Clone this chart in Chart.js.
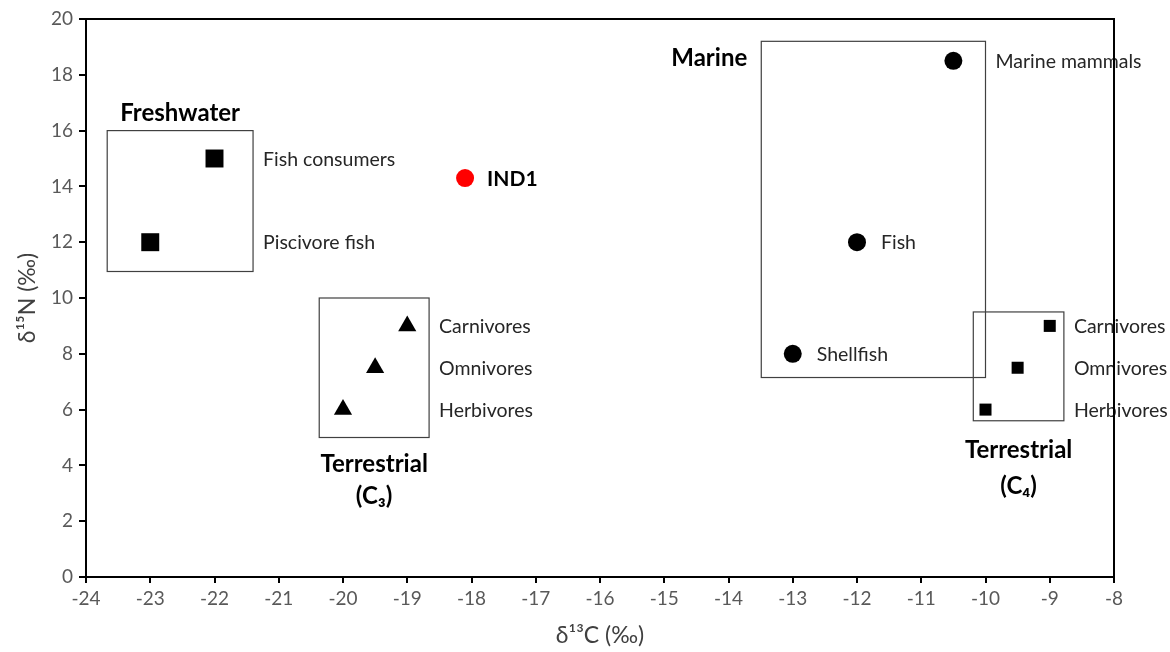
<!DOCTYPE html>
<html>
<head>
<meta charset="utf-8">
<script src="https://cdn.jsdelivr.net/npm/chart.js@4.4.0/dist/chart.umd.min.js"></script>
<style>
  html, body { margin: 0; padding: 0; background: #fff; }
  #wrap { width: 1170px; height: 652px; }
</style>
</head>
<body>
<div id="wrap"><canvas id="isotopeChart" width="1170" height="652"></canvas></div>
<script>
// d13C (x) and d15N (y) values
const freshwaterNames = ["Fish consumers", "Piscivore fish"];
const freshwaterC = [-22, -23];
const freshwaterN = [15, 12];

const c3Names = ["Carnivores", "Omnivores", "Herbivores"];
const c3C = [-19, -19.5, -20];
const c3N = [9, 7.5, 6];

const marineNames = ["Marine mammals", "Fish", "Shellfish"];
const marineC = [-10.5, -12, -13];
const marineN = [18.5, 12, 8];

const c4Names = ["Carnivores", "Omnivores", "Herbivores"];
const c4C = [-9, -9.5, -10];
const c4N = [9, 7.5, 6];

const sampleNames = ["IND1"];
const sampleC = [-18.1];
const sampleN = [14.3];

// reference ranges drawn as boxes: [minC, maxC, minN, maxN]
const freshwaterBox = [-23.67, -21.4, 10.95, 16];
const c3Box = [-20.37, -18.66, 5, 10];
const marineBox = [-13.49, -10, 7.15, 19.2];
const c4Box = [-10.19, -8.78, 5.6, 9.5];

const xMin = -24, xMax = -8, xStep = 1;
const yMin = 0, yMax = 20, yStep = 2;

const FONT = "Lato, 'Open Sans', sans-serif";

const toPoints = (xs, ys) => xs.map((v, i) => ({ x: v, y: ys[i] }));

// group drawing info (labels go right of the box or right of the point)
const groups = [
  { names: freshwaterNames, xs: freshwaterC, ys: freshwaterN, box: freshwaterBox, title: ["Freshwater"], titleAt: "top", gaps: [17], labelAt: ["box", "box"] },
  { names: c3Names, xs: c3C, ys: c3N, box: c3Box, title: ["Terrestrial", "(C\u2083)"], titleAt: "bottom", gaps: [27, 59], labelAt: ["box", "box", "box"] },
  { names: marineNames, xs: marineC, ys: marineN, box: marineBox, title: ["Marine"], titleAt: "left", gaps: [14], labelAt: ["box", "point", "point"] },
  { names: c4Names, xs: c4C, ys: c4N, box: c4Box, title: ["Terrestrial", "(C\u2084)"], titleAt: "bottom", gaps: [30, 66], labelAt: ["box", "box", "box"] },
];

const boxesPlugin = {
  id: "boxes",
  beforeDatasetsDraw(chart) {
    const { ctx, scales: { x, y } } = chart;
    ctx.save();
    ctx.strokeStyle = "#404040";
    ctx.lineWidth = 1.2;
    groups.forEach((g) => {
      const [c0, c1, n0, n1] = g.box;
      const left = x.getPixelForValue(c0), right = x.getPixelForValue(c1);
      const top = y.getPixelForValue(n1), bottom = y.getPixelForValue(n0);
      ctx.strokeRect(left, top, right - left, bottom - top);
    });
    ctx.restore();
  },
  afterDraw(chart) {
    const { ctx, chartArea: a, scales: { x, y } } = chart;
    ctx.save();
    ctx.textBaseline = "middle";
    groups.forEach((g) => {
      const [c0, c1, n0, n1] = g.box;
      const left = x.getPixelForValue(c0), right = x.getPixelForValue(c1);
      const top = y.getPixelForValue(n1), bottom = y.getPixelForValue(n0);

      // point labels
      ctx.font = "19.5px " + FONT;
      ctx.fillStyle = "#262626";
      ctx.textAlign = "left";
      g.names.forEach((name, i) => {
        const px = x.getPixelForValue(g.xs[i]);
        const py = y.getPixelForValue(g.ys[i]);
        const lx = g.labelAt[i] === "box" ? right + 10 : px + 24;
        ctx.fillText(name, lx, py + 1);
      });

      // group title
      ctx.font = "bold 24px " + FONT;
      ctx.fillStyle = "#000";
      const cx = (left + right) / 2;
      if (g.titleAt === "top") {
        ctx.textAlign = "center";
        ctx.fillText(g.title[0], cx, top - g.gaps[0]);
      } else if (g.titleAt === "left") {
        ctx.textAlign = "right";
        ctx.fillText(g.title[0], left - g.gaps[0], top + 17);
      } else {
        ctx.textAlign = "center";
        ctx.fillText(g.title[0], cx, bottom + g.gaps[0]);
        ctx.fillText(g.title[1], cx, bottom + g.gaps[1]);
      }
    });

    // sample label
    ctx.font = "bold 21px " + FONT;
    ctx.fillStyle = "#000";
    ctx.textAlign = "left";
    sampleNames.forEach((name, i) => {
      ctx.fillText(name, x.getPixelForValue(sampleC[i]) + 22, y.getPixelForValue(sampleN[i]) + 1);
    });

    // top and right frame, drawn over the labels
    ctx.strokeStyle = "#000";
    ctx.lineWidth = 2;
    ctx.beginPath();
    ctx.moveTo(a.left, a.top);
    ctx.lineTo(a.right, a.top);
    ctx.lineTo(a.right, a.bottom);
    ctx.stroke();
    ctx.restore();
  },
};

const ctx = document.getElementById("isotopeChart");

new Chart(ctx, {
  type: "scatter",
  data: {
    datasets: [
      {
        label: "Freshwater",
        data: toPoints(freshwaterC, freshwaterN),
        pointStyle: "rect",
        pointRadius: 12.7,
        backgroundColor: "#000",
        borderColor: "#000",
        borderWidth: 0,
      },
      {
        label: "Terrestrial (C3)",
        data: toPoints(c3C, c3N),
        pointStyle: "triangle",
        pointRadius: 10.5,
        backgroundColor: "#000",
        borderColor: "#000",
        borderWidth: 0,
      },
      {
        label: "Marine",
        data: toPoints(marineC, marineN),
        pointStyle: "circle",
        pointRadius: 9,
        backgroundColor: "#000",
        borderColor: "#000",
        borderWidth: 0,
      },
      {
        label: "Terrestrial (C4)",
        data: toPoints(c4C, c4N),
        pointStyle: "rect",
        pointRadius: 8.5,
        backgroundColor: "#000",
        borderColor: "#000",
        borderWidth: 0,
      },
      {
        label: "IND1",
        data: toPoints(sampleC, sampleN),
        pointStyle: "circle",
        pointRadius: 9,
        backgroundColor: "#ff0000",
        borderColor: "#ff0000",
        borderWidth: 0,
      },
    ],
  },
  options: {
    responsive: false,
    animation: false,
    layout: { padding: { top: 19, right: 56, left: 0, bottom: 0 } },
    plugins: {
      legend: { display: false },
      tooltip: { enabled: false },
    },
    scales: {
      x: {
        type: "linear",
        min: xMin,
        max: xMax,
        afterFit: (scale) => { scale.height = 75; },
        ticks: { stepSize: xStep, color: "#595959", padding: 4, font: { size: 19, family: FONT } },
        grid: { drawOnChartArea: false, drawTicks: true, tickLength: 6, color: "#000", lineWidth: 2 },
        border: { color: "#000", width: 2 },
        title: { display: true, text: "\u03b4\u00b9\u00b3C (\u2030)", color: "#404040", font: { size: 23, family: FONT }, padding: { top: 0, bottom: 3 } },
      },
      y: {
        type: "linear",
        min: yMin,
        max: yMax,
        afterFit: (scale) => { scale.width = 86; },
        ticks: { stepSize: yStep, color: "#595959", padding: 6, font: { size: 19, family: FONT } },
        grid: { drawOnChartArea: false, drawTicks: true, tickLength: 7, color: "#000", lineWidth: 2 },
        border: { color: "#000", width: 2 },
        title: { display: true, text: "\u03b4\u00b9\u2075N (\u2030)", color: "#404040", font: { size: 23, family: FONT }, padding: { top: 14, bottom: 0 } },
      },
    },
  },
  plugins: [boxesPlugin],
});
</script>
</body>
</html>
